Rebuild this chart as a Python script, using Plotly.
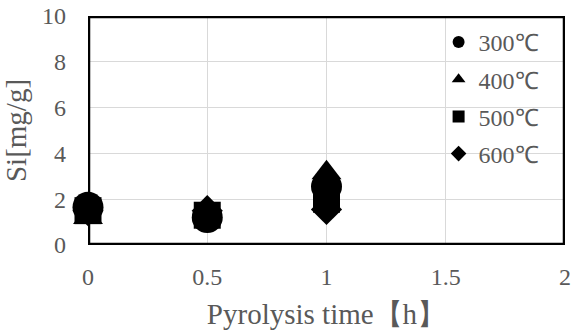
import plotly.graph_objects as go

time_h = [0, 0.5, 1]
si_300 = [1.65, 1.2, 2.55]
si_400 = [1.2, 1.4, 3.15]
si_500 = [1.5, 1.3, 2.0]
si_600 = [1.5, 1.5, 1.55]
labels = ["300℃", "400℃", "500℃", "600℃"]
symbols = ["circle", "triangle-up", "square", "diamond"]
sizes = [31, 26, 27, 24]

FONT = "Liberation Serif, Times New Roman, serif"
GRAY = "#595959"

series = [si_300, si_400, si_500, si_600]
fig = go.Figure()
for i in range(4):
    fig.add_trace(go.Scatter(
        x=time_h, y=series[i], mode="markers", name=labels[i],
        legendgroup=labels[i],
        marker=dict(symbol=symbols[i], size=sizes[i], color="black"),
        cliponaxis=False,
    ))

fig.add_shape(type="rect", xref="x", yref="y", x0=0, x1=2, y0=0, y1=10,
              line=dict(color="black", width=4.5), layer="above")

fig.update_layout(
    width=579, height=333,
    margin=dict(l=88, r=14, t=16, b=88, autoexpand=False),
    paper_bgcolor="white", plot_bgcolor="white",
    font=dict(family=FONT, size=24, color=GRAY),
    showlegend=True,
    legend=dict(x=0.735, y=0.983, xanchor="left", yanchor="top",
                traceorder="grouped", tracegroupgap=3,
                itemsizing="constant", bgcolor="rgba(0,0,0,0)",
                font=dict(family=FONT, size=24, color=GRAY)),
    xaxis=dict(range=[0, 2], tickvals=[0, 0.5, 1, 1.5, 2],
               ticktext=["0", "0.5", "1", "1.5", "2"],
               showgrid=True, gridcolor="#d9d9d9", gridwidth=1,
               zeroline=False, showline=False, ticks="",
               ticklabelstandoff=15, automargin=False,
               title=dict(text="Pyrolysis time【h】", standoff=14),
               tickfont=dict(family=FONT, size=24, color=GRAY)),
    yaxis=dict(range=[0, 10], tickvals=[0, 2, 4, 6, 8, 10],
               showgrid=True, gridcolor="#d9d9d9", gridwidth=1,
               zeroline=False, showline=False, ticks="",
               ticklabelstandoff=21, automargin=False,
               title=dict(text="Si[mg/g]", standoff=6),
               tickfont=dict(family=FONT, size=24, color=GRAY)),
)

fig.write_html("out.html")
